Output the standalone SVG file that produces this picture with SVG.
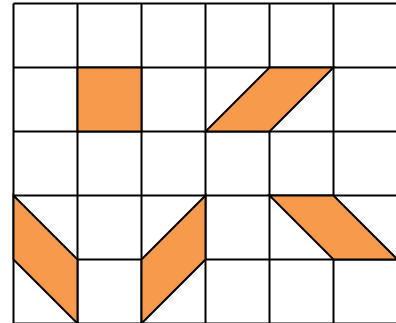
<svg xmlns="http://www.w3.org/2000/svg" width="396" height="323" viewBox="0 0 396 323">
<style>
.grid{fill:none;stroke:#000;stroke-width:2}
.shape{fill:#F79A4B;stroke:#000;stroke-width:2;stroke-linejoin:miter}
</style>
<rect width="396" height="323" fill="#fff"/>
<g id="grid" class="grid">
<path d="M13.5 3.5V330M77.5 3.5V330M141.5 3.5V330M205.5 3.5V330M269.5 3.5V330M333.5 3.5V330M397.5 3.5V330"/>
<path d="M13.5 3.5H400M13.5 67.5H400M13.5 131.5H400M13.5 195.5H400M13.5 259.5H400M13.5 323.5H400"/>
</g>
<g id="square"><path class="shape" d="M77.5 67.5H141.5V131.5H77.5Z"/></g>
<g id="para-top"><path class="shape" d="M205.5 131.5L269.5 67.5H333.5L269.5 131.5Z"/></g>
<g id="para-left"><path class="shape" d="M13.5 195.5L77.5 259.5V323.5L13.5 259.5Z"/></g>
<g id="para-mid"><path class="shape" d="M141.5 259.5L205.5 195.5V259.5L141.5 323.5Z"/></g>
<g id="para-right"><path class="shape" d="M269.5 195.5H333.5L397.5 259.5H333.5Z"/></g>
</svg>
